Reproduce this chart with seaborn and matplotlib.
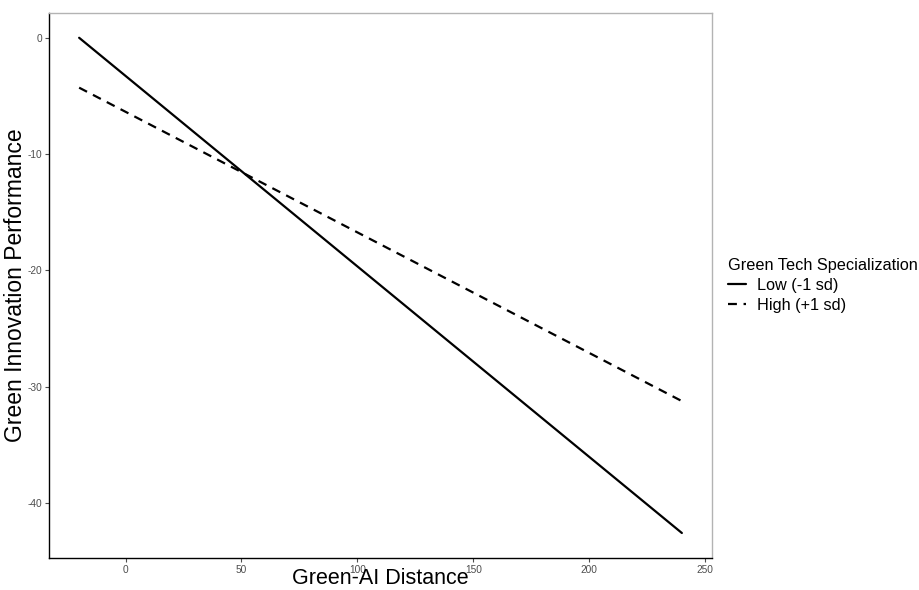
import seaborn as sns
import matplotlib.pyplot as plt
import pandas as pd

# simple slopes at low / high moderator
distance = [-20, 240]
low_perf = [0.0, -42.58]
high_perf = [-4.29, -31.24]
groups = ["Low (-1 sd)", "High (+1 sd)"]

df = pd.DataFrame({
    "distance": distance * 2,
    "perf": low_perf + high_perf,
    "group": [groups[0]] * 2 + [groups[1]] * 2,
})

sns.set_style("white")
plt.rcParams['font.family'] = ['Liberation Sans', 'DejaVu Sans']
plt.rcParams['axes.unicode_minus'] = False
plt.rcParams['text.color'] = 'black'
plt.rcParams['axes.labelcolor'] = 'black'

fig = plt.figure(figsize=(9.19, 5.9), dpi=100)
ax = fig.add_axes([49 / 919, 1 - 558 / 590, (712 - 49) / 919, (558 - 13) / 590])

sns.lineplot(data=df, x="distance", y="perf", style="group", style_order=groups,
             dashes={groups[0]: "", groups[1]: (4, 3)}, color="black",
             linewidth=1.6, ax=ax, legend=True)

ax.set_xlim(-33, 253)
ax.set_ylim(-44.73, 2.13)
ax.set_xticks([0, 50, 100, 150, 200, 250])
ax.set_yticks([0, -10, -20, -30, -40])
ax.tick_params(axis="both", colors="#4d4d4d", labelsize=7.3, length=3, width=0.8,
               left=True, bottom=True)
ax.tick_params(axis="x", pad=2)
ax.tick_params(axis="y", pad=2)

for s in ["left", "bottom"]:
    ax.spines[s].set_color("black")
    ax.spines[s].set_linewidth(1.0)
for s in ["top", "right"]:
    ax.spines[s].set_color("#b3b3b3")
    ax.spines[s].set_linewidth(1.0)

ax.set_xlabel("Green-AI Distance", fontsize=15.5, color="black")
ax.set_ylabel("Green Innovation Performance", fontsize=16.5, color="black")
ax.xaxis.set_label_coords(0.5, -1.0 / 545 * (590 - 558 - 1), transform=None) if False else None
ax.xaxis.set_label_coords(0.5, (558 - 589) / 545)
ax.yaxis.set_label_coords((16 - 49) / 663, 0.5)
ax.xaxis.label.set_va("bottom")
ax.yaxis.label.set_va("center")

leg = ax.legend(title="Green Tech Specialization", loc="center left",
                bbox_to_anchor=(1.0, 0.5), frameon=False, fontsize=11.7,
                title_fontsize=11.7, handlelength=1.1, handletextpad=0.65,
                labelspacing=0.3, borderaxespad=0.6)
leg._legend_box.align = "left"
for t in leg.get_texts():
    t.set_color("black")
leg.get_title().set_color("black")

fig.savefig("out.png", dpi=100)
